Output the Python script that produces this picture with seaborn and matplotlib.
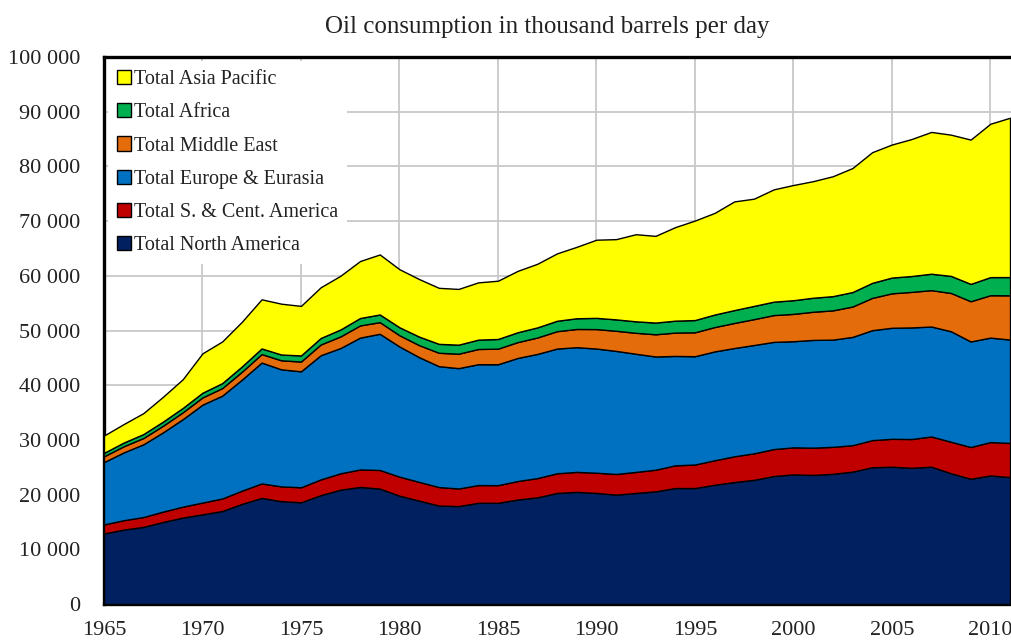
import matplotlib
matplotlib.use("Agg")
import matplotlib.pyplot as plt
import numpy as np
import pandas as pd
import seaborn as sns
from matplotlib.ticker import FuncFormatter

# oil consumption, thousand barrels per day
years = list(range(1965, 2012))

north_america = [12900, 13600, 14100, 15000, 15800, 16400, 17000, 18300, 19400, 18800,
                 18600, 19900, 20900, 21400, 21100, 19800, 18900, 18000, 17900, 18500,
                 18500, 19100, 19500, 20300, 20500, 20300, 20000, 20300, 20600, 21200,
                 21200, 21800, 22300, 22700, 23400, 23700, 23600, 23800, 24200, 25000,
                 25100, 24900, 25100, 23900, 22900, 23500, 23200]
s_cent_america = [1650, 1720, 1800, 1900, 2000, 2150, 2290, 2420, 2640, 2700,
                  2740, 2880, 2990, 3200, 3400, 3480, 3420, 3380, 3220, 3240,
                  3230, 3380, 3520, 3600, 3650, 3700, 3770, 3850, 3950, 4150,
                  4300, 4480, 4700, 4850, 4920, 4940, 4980, 4930, 4830, 4960,
                  5100, 5260, 5530, 5760, 5800, 6100, 6250]
europe_eurasia = [11400, 12400, 13300, 14500, 16000, 17900, 18800, 20300, 22100, 21400,
                  21200, 22700, 22900, 24100, 24900, 23800, 22800, 22100, 22000, 22100,
                  22100, 22500, 22700, 22800, 22800, 22700, 22500, 21600, 20700, 20000,
                  19800, 19900, 19800, 19800, 19600, 19400, 19700, 19600, 19800, 20100,
                  20300, 20400, 20100, 20200, 19300, 19100, 18900]
middle_east = [1050, 1120, 1150, 1200, 1250, 1320, 1380, 1450, 1550, 1650,
               1790, 1960, 2120, 2230, 2130, 2050, 2200, 2450, 2640, 2780,
               2850, 2900, 3000, 3180, 3330, 3560, 3680, 3830, 4060, 4270,
               4370, 4450, 4580, 4730, 4900, 5000, 5150, 5350, 5550, 5900,
               6300, 6500, 6650, 7000, 7350, 7750, 8080]
africa = [640, 680, 720, 760, 800, 860, 910, 960, 1030, 1060,
          1110, 1190, 1270, 1350, 1400, 1460, 1560, 1630, 1650, 1710,
          1770, 1800, 1850, 1900, 1960, 2050, 2080, 2100, 2140, 2180,
          2240, 2290, 2350, 2420, 2450, 2500, 2560, 2600, 2650, 2750,
          2880, 2900, 3000, 3120, 3170, 3310, 3340]
asia_pacific = [3160, 3380, 3830, 4540, 5250, 7200, 7620, 8170, 8980, 9290,
                9060, 9270, 9820, 10420, 10970, 10610, 10520, 10240, 10190, 10470,
                10650, 11220, 11630, 12320, 13060, 14290, 14670, 15920, 15850, 17100,
                18190, 18580, 19870, 19600, 20530, 21060, 21310, 21920, 22670, 23890,
                24320, 25040, 25920, 25820, 26380, 28040, 29130]

regions = ["Total North America", "Total S. & Cent. America", "Total Europe & Eurasia",
           "Total Middle East", "Total Africa", "Total Asia Pacific"]
colors = ["#002060", "#C00000", "#0070C0", "#E46C0A", "#00B050", "#FFFF00"]

df = pd.DataFrame({
    regions[0]: north_america,
    regions[1]: s_cent_america,
    regions[2]: europe_eurasia,
    regions[3]: middle_east,
    regions[4]: africa,
    regions[5]: asia_pacific,
}, index=years)

sns.set_style("white")
plt.rcParams["font.family"] = ["Liberation Serif", "DejaVu Serif"]

fig = plt.figure(figsize=(10.12, 6.42), dpi=100)
ax = fig.add_axes([104 / 1012, 38 / 642, 908 / 1012, 547 / 642])

polys = ax.stackplot(df.index, df.T.values, colors=colors, labels=regions,
                     edgecolor="black", linewidth=1.0)
for p in polys:
    p.set_zorder(3)

ax.set_xlim(1965, 2011.1)
ax.set_ylim(0, 100000)
ax.set_xticks(range(1965, 2011, 5))
ax.set_yticks(range(0, 100001, 10000))
ax.yaxis.set_major_formatter(FuncFormatter(lambda v, p: f"{int(v):,}".replace(",", " ")))

ax.set_axisbelow(True)
ax.grid(True, color="#c8c8c8", linewidth=1.3)

for side in ["left", "top", "bottom"]:
    ax.spines[side].set_visible(True)
    ax.spines[side].set_color("black")
    ax.spines[side].set_linewidth(2.4)
ax.spines["right"].set_visible(False)

ax.tick_params(axis="x", direction="in", length=6, width=2, color="black",
               labelsize=16, pad=12, labelcolor="#222222")
ax.tick_params(axis="y", length=0, labelsize=16, pad=17, labelcolor="#222222")

fig.text(547 / 1012, 1 - 27 / 642, "Oil consumption in thousand barrels per day",
         ha="center", va="center", fontsize=18, color="#222222")

handles, labels = ax.get_legend_handles_labels()
leg = ax.legend(handles[::-1], labels[::-1], loc="upper left", bbox_to_anchor=(0.0, 1.0),
                frameon=True, facecolor="white", edgecolor="none", framealpha=1,
                fancybox=False, fontsize=14.5, handlelength=0.7, handleheight=0.7,
                handletextpad=0.15, labelspacing=0.7, borderpad=0.45, borderaxespad=0.2)
leg.set_zorder(2)
for t in leg.get_texts():
    t.set_color("#222222")

fig.savefig("out.png", dpi=100)
plt.close(fig)
